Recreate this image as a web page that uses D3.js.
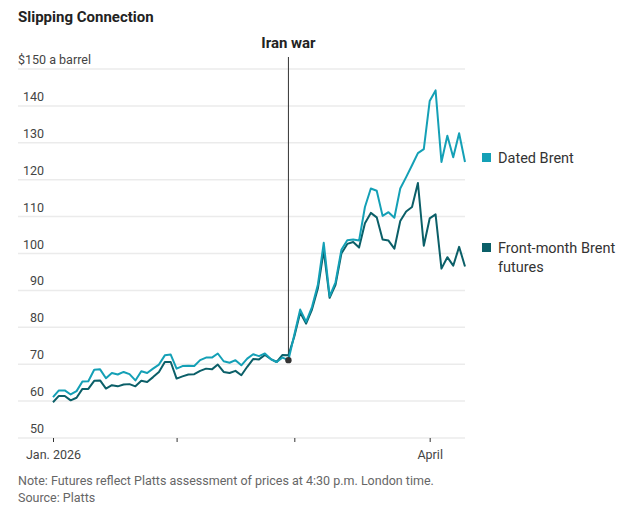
<!DOCTYPE html>
<html>
<head>
<meta charset="utf-8">
<script src="https://cdn.jsdelivr.net/npm/d3@7"></script>
<style>
  body { margin: 0; background: #fff; }
  svg text { font-family: "Liberation Sans Narrow", "Roboto", sans-serif; }
</style>
</head>
<body>
<div id="chart"></div>
<script>
// trading sessions, Jan. 2 2026 onward
var datedBrent = [
  61.1, 62.9, 62.9, 61.8, 62.7, 65.3, 65.4, 68.5, 68.6, 66.2,
  67.6, 67.2, 67.9, 67.3, 65.6, 68.1, 67.6, 68.8, 69.9, 72.4,
  72.6, 68.8, 69.5, 69.6, 69.5, 71.1, 71.8, 71.8, 72.9, 70.8,
  70.4, 71.1, 69.7, 71.5, 72.7, 72.2, 72.9, 71.4, 70.6, 71.8,
  71.1, 78.0, 84.8, 81.5, 85.5, 91.5, 102.9, 88.4, 92.2, 101.0,
  103.6, 103.8, 103.5, 112.6, 117.6, 117.0, 110.2, 111.2, 109.7, 117.6,
  120.7, 123.9, 127.2, 128.3, 141.3, 144.2, 124.8, 131.9, 126.1, 132.6,
  124.8
];
var frontMonth = [
  59.7, 61.4, 61.4, 60.2, 60.9, 63.3, 63.3, 65.5, 65.6, 63.4,
  64.3, 64.0, 64.5, 64.6, 64.0, 65.5, 65.2, 66.5, 67.9, 70.6,
  70.6, 66.1, 66.7, 67.2, 67.3, 68.2, 68.8, 68.6, 69.9, 67.9,
  67.6, 68.2, 67.0, 69.3, 71.4, 71.3, 72.5, 71.4, 70.6, 72.5,
  72.4, 77.5, 84.0, 81.0, 84.8, 90.5, 100.8, 88.0, 91.5, 100.0,
  102.6, 103.1, 101.6, 108.2, 111.0, 109.8, 103.8, 103.5, 101.3, 108.8,
  111.4, 112.6, 119.1, 102.1, 109.5, 110.6, 95.9, 99.0, 96.7, 101.8,
  96.5
];
// first session of each month
var monthTicks = [
  { index: 0, label: "Jan. 2026" },
  { index: 21, label: "" },
  { index: 41, label: "" },
  { index: 64, label: "April" }
];
var yTicks = [50, 60, 70, 80, 90, 100, 110, 120, 130, 140, 150];
var warIndex = 40;

var series = [
  { name: "Dated Brent", values: datedBrent, color: "#14a0b6" },
  { name: "Front-month Brent futures", values: frontMonth, color: "#0b5f68" }
];

var width = 643, height = 520;
var svg = d3.select("#chart").append("svg")
  .attr("width", width)
  .attr("height", height);

var x = d3.scaleLinear().domain([0, datedBrent.length - 1]).range([53, 465]);
var y = d3.scaleLinear().domain([50, 150]).range([438, 69]);

// title
svg.append("text")
  .attr("x", 18).attr("y", 22)
  .attr("font-size", 15).attr("font-weight", "bold")
  .attr("fill", "#222")
  .text("Slipping Connection");

// grid + y labels
var grid = svg.append("g").attr("class", "grid");
grid.selectAll("line").data(yTicks).enter().append("line")
  .attr("x1", 18).attr("x2", 465)
  .attr("y1", function (d) { return y(d); })
  .attr("y2", function (d) { return y(d); })
  .attr("stroke", "#ebebeb")
  .attr("stroke-width", 1.5);

grid.selectAll("text").data(yTicks).enter().append("text")
  .attr("x", function (d) { return d === 150 ? 18 : 44; })
  .attr("y", function (d) { return y(d) - 5; })
  .attr("text-anchor", function (d) { return d === 150 ? "start" : "end"; })
  .attr("font-size", 12.5)
  .attr("fill", "#444")
  .text(function (d) { return d === 150 ? "$150 a barrel" : d; });

// x axis
var xAxis = svg.append("g")
  .attr("transform", "translate(0," + y(50) + ")")
  .call(d3.axisBottom(x)
    .tickValues(monthTicks.map(function (d) { return d.index; }))
    .tickSize(4)
    .tickFormat(function (d, i) { return monthTicks[i].label; }));
xAxis.select(".domain").remove();
xAxis.selectAll(".tick line").attr("stroke", "#333");
xAxis.selectAll(".tick text")
  .attr("font-family", null)
  .attr("font-size", 12.5)
  .attr("fill", "#444")
  .attr("dy", "1.15em");

// war marker
svg.append("line")
  .attr("x1", x(warIndex)).attr("x2", x(warIndex))
  .attr("y1", 57).attr("y2", y(datedBrent[warIndex]))
  .attr("stroke", "#333").attr("stroke-width", 1);
svg.append("text")
  .attr("x", x(warIndex)).attr("y", 48)
  .attr("text-anchor", "middle")
  .attr("font-size", 15).attr("font-weight", "bold")
  .attr("fill", "#222")
  .text("Iran war");

// lines
var line = d3.line()
  .x(function (d, i) { return x(i); })
  .y(function (d) { return y(d); });

svg.selectAll("path.series").data(series.slice().reverse()).enter().append("path")
  .attr("class", "series")
  .attr("d", function (d) { return line(d.values); })
  .attr("fill", "none")
  .attr("stroke", function (d) { return d.color; })
  .attr("stroke-width", 2)
  .attr("stroke-linejoin", "round");

svg.append("circle")
  .attr("cx", x(warIndex)).attr("cy", y(datedBrent[warIndex]))
  .attr("r", 3.2)
  .attr("fill", "#333");

// legend
var legendY = [163, 253];
var legend = svg.selectAll("g.legend").data(series).enter().append("g")
  .attr("class", "legend")
  .attr("transform", function (d, i) { return "translate(482," + legendY[i] + ")"; });
legend.append("rect")
  .attr("x", 0).attr("y", -10)
  .attr("width", 9).attr("height", 9)
  .attr("fill", function (d) { return d.color; });
legend.append("text")
  .attr("x", 16).attr("y", 0)
  .attr("font-size", 14.5)
  .attr("fill", "#333")
  .each(function (d) {
    var t = d3.select(this);
    var parts = d.name === "Front-month Brent futures" ? ["Front-month Brent", "futures"] : [d.name];
    parts.forEach(function (p, k) {
      t.append("tspan").attr("x", 16).attr("dy", k === 0 ? 0 : 19).text(p);
    });
  });

// footnotes
svg.append("text")
  .attr("x", 18).attr("y", 485)
  .attr("font-size", 12.5).attr("fill", "#666")
  .text("Note: Futures reflect Platts assessment of prices at 4:30 p.m. London time.");
svg.append("text")
  .attr("x", 18).attr("y", 502)
  .attr("font-size", 12.5).attr("fill", "#666")
  .text("Source: Platts");
</script>
</body>
</html>
